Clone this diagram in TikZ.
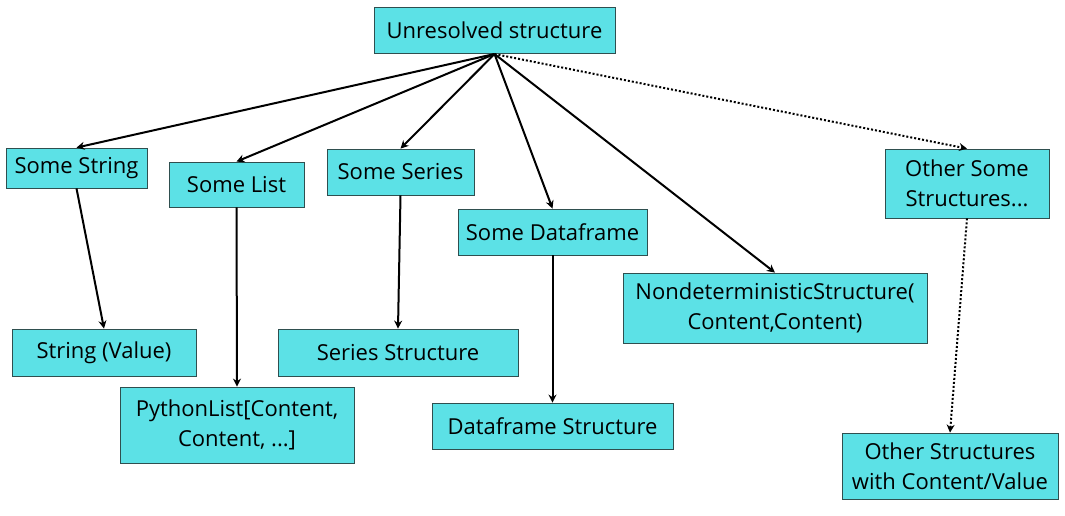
\documentclass[tikz,border=0pt]{standalone}
\usepackage{fontspec}
\setmainfont{Open Sans}
\usetikzlibrary{arrows.meta}
\definecolor{boxfill}{HTML}{5CE1E6}
\definecolor{boxline}{HTML}{2F4F4F}
\begin{document}
\begin{tikzpicture}[x=1pt,y=-1pt,
  box/.style={draw=boxline, line width=0.8pt, fill=boxfill, inner sep=0pt, align=center,
    font=\fontsize{22}{30}\selectfont, text=black},
  conn/.style={line width=2pt, -{Stealth[length=8pt,width=8pt]}},
  dconn/.style={line width=2pt, dotted, -{Stealth[length=8pt,width=8pt]}}]
\useasboundingbox (0,0) rectangle (1065,516);
\node[box, minimum width=241, minimum height=46] (u) at (494.5,30) {Unresolved structure};
\node[box, minimum width=141, minimum height=40] (ss) at (76.5,168) {Some String};
\node[box, minimum width=135, minimum height=45] (sl) at (236.5,184.5) {Some List};
\node[box, minimum width=147, minimum height=46] (se) at (400.5,172) {Some Series};
\node[box, minimum width=189, minimum height=46] (sd) at (552.5,232) {Some Dataframe};
\node[box, minimum width=304, minimum height=70] (nd) at (775,308) {NondeterministicStructure(\\Content,Content)};
\node[box, minimum width=164, minimum height=69] (os) at (967,183.5) {Other Some\\Structures...};
\node[box, minimum width=184, minimum height=47] (sv) at (104,352.5) {String (Value)};
\node[box, minimum width=234, minimum height=76] (pl) at (237,425) {PythonList[Content,\\Content, ...]};
\node[box, minimum width=240, minimum height=47] (sst) at (398,352.5) {Series Structure};
\node[box, minimum width=241, minimum height=46] (dst) at (552.5,426) {Dataframe Structure};
\node[box, minimum width=216, minimum height=66] (ost) at (950,466) {Other Structures\\with Content/Value};
\coordinate (top) at (494.5,54);
\draw[conn] (top) -- (ss.north);
\draw[conn] (top) -- (sl.north);
\draw[conn] (top) -- (se.north);
\draw[conn] (top) -- (sd.north);
\draw[conn] (top) -- (nd.north);
\draw[dconn] (top) -- (os.north);
\draw[conn] (ss.south) -- (sv.north);
\draw[conn] (sl.south) -- (pl.north);
\draw[conn] (se.south) -- (sst.north);
\draw[conn] (sd.south) -- (dst.north);
\draw[dconn] (os.south) -- (ost.north);
\end{tikzpicture}
\end{document}
